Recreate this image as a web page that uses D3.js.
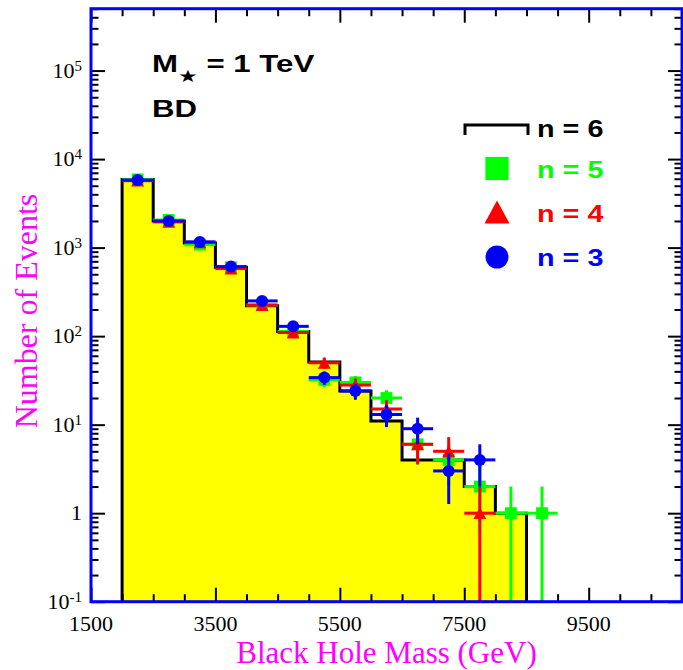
<!DOCTYPE html>
<html>
<head>
<meta charset="utf-8">
<script src="https://cdn.jsdelivr.net/npm/d3@7"></script>
<style>
  html, body { margin: 0; padding: 0; background: #fff; }
  svg { display: block; }
</style>
</head>
<body>
<svg id="chart" width="683" height="670"></svg>
<script>
// Histogram for n = 6: bin edges (GeV) and counts per 500 GeV bin
const binEdges = [2000, 2500, 3000, 3500, 4000, 4500, 5000, 5500, 6000, 6500, 7000, 7500, 8000, 8500];
const n6Counts = [5900, 2000, 1130, 600, 220, 113, 51, 24, 11, 4, 4, 2, 1];

// Points for n = 5, 4, 3 at the bin centres (null = empty bin)
const pointMass = [2250, 2750, 3250, 3750, 4250, 4750, 5250, 5750, 6250, 6750, 7250, 7750, 8250, 8750];
const n5Counts = [5900, 2050, 1080, 600, 225, 113, 32, 30, 20, 6, 4, 2, 1, 1];
const n4Counts = [5700, 1950, 1150, 580, 224, 110, 50, 28, 15, 6, 5, 1, null, null];
const n3Counts = [5800, 2000, 1160, 610, 250, 129, 34, 24, 13, 9, 3, 4, null, null];

// Axis labels
const xTickLabels = [1500, 3500, 5500, 7500, 9500];
const yTickExponents = [-1, 0, 1, 2, 3, 4, 5];

const halfBin = 250;

const svg = d3.select("#chart");
const plotLeft = 91, plotRight = 682, plotTop = 8.7, plotBottom = 601.7;

const x = d3.scaleLinear().domain([1500, 11000]).range([plotLeft, plotRight]);
const y = d3.scaleLog().domain([0.1, 5e5]).range([plotBottom, plotTop]).clamp(true);

const serif = "'Liberation Serif', 'Times New Roman', serif";
const sans = "'Liberation Sans', Arial, Helvetica, sans-serif";

// ---- n = 6 histogram (filled step outline) ----
const steps = [[binEdges[0], 0.1]];
n6Counts.forEach((c, i) => {
  steps.push([binEdges[i], c]);
  steps.push([binEdges[i + 1], c]);
});
steps.push([binEdges[binEdges.length - 1], 0.1]);

const stepLine = d3.line().x(d => x(d[0])).y(d => y(d[1]));
svg.append("path")
  .attr("d", stepLine(steps) + "Z")
  .attr("fill", "#ffff00")
  .attr("stroke", "none");
svg.append("path")
  .attr("d", stepLine(steps))
  .attr("fill", "none")
  .attr("stroke", "#000")
  .attr("stroke-width", 3)
  .attr("stroke-linejoin", "miter");

// ---- points with Poisson error bars ----
const triangle = {
  draw(ctx, size) {
    const w = Math.sqrt(size), h = w * 0.92;
    ctx.moveTo(0, -h / 2);
    ctx.lineTo(w / 2, h / 2);
    ctx.lineTo(-w / 2, h / 2);
    ctx.closePath();
  }
};

const series = [
  { counts: n5Counts, color: "#00ff00", symbol: d3.symbolSquare, size: 140 },
  { counts: n4Counts, color: "#ff0000", symbol: triangle, size: 165 },
  { counts: n3Counts, color: "#0000ff", symbol: d3.symbolCircle, size: Math.PI * 36 }
];

series.forEach(s => {
  const pts = pointMass.map((m, i) => ({ m, v: s.counts[i] })).filter(d => d.v != null);
  const g = svg.append("g");
  pts.forEach(d => {
    const err = Math.sqrt(d.v);
    const lo = d.v - err > 0 ? d.v - err : 0.1;
    g.append("line")
      .attr("x1", x(d.m - halfBin)).attr("x2", x(d.m + halfBin))
      .attr("y1", y(d.v)).attr("y2", y(d.v))
      .attr("stroke", s.color).attr("stroke-width", 3);
    g.append("line")
      .attr("x1", x(d.m)).attr("x2", x(d.m))
      .attr("y1", y(lo)).attr("y2", y(d.v + err))
      .attr("stroke", s.color).attr("stroke-width", 3);
  });
  g.selectAll("path.mk").data(pts).join("path")
    .attr("class", "mk")
    .attr("transform", d => `translate(${x(d.m)},${y(d.v)})`)
    .attr("d", d3.symbol(s.symbol, s.size)())
    .attr("fill", s.color);
});

// ---- ticks on all four sides, pointing inward ----
const xMinor = d3.range(1500, 11001, 500);
const xMajor = xTickLabels;
const yAll = y.ticks();
const isMajorY = v => Math.abs(Math.log10(v) - Math.round(Math.log10(v))) < 1e-9;
const yMajor = yAll.filter(isMajorY);
const yMinor = yAll.filter(v => !isMajorY(v));

function tickAxis(axisFn, scale, values, size, transform) {
  const g = svg.append("g")
    .attr("transform", transform)
    .call(axisFn(scale).tickValues(values).tickSize(size).tickFormat(""));
  g.select(".domain").remove();
  g.selectAll(".tick line").attr("stroke", "#000").attr("stroke-width", 2);
}
const majorLen = 14, minorLen = 7.5;
const xMinorOnly = xMinor.filter(v => !xMajor.includes(v));
tickAxis(d3.axisBottom, x, xMinorOnly, -minorLen, `translate(0,${plotBottom})`);
tickAxis(d3.axisBottom, x, xMajor, -majorLen, `translate(0,${plotBottom})`);
tickAxis(d3.axisTop, x, xMinorOnly, -minorLen, `translate(0,${plotTop})`);
tickAxis(d3.axisTop, x, xMajor, -majorLen, `translate(0,${plotTop})`);
tickAxis(d3.axisLeft, y, yMinor, -minorLen, `translate(${plotLeft},0)`);
tickAxis(d3.axisLeft, y, yMajor, -majorLen, `translate(${plotLeft},0)`);
tickAxis(d3.axisRight, y, yMinor, -minorLen, `translate(${plotRight},0)`);
tickAxis(d3.axisRight, y, yMajor, -majorLen, `translate(${plotRight},0)`);

// ---- frame ----
svg.append("rect")
  .attr("x", plotLeft).attr("y", plotTop)
  .attr("width", plotRight - plotLeft).attr("height", plotBottom - plotTop)
  .attr("fill", "none").attr("stroke", "#0000ff").attr("stroke-width", 3);

// ---- tick labels ----
svg.append("g").selectAll("text").data(xTickLabels).join("text")
  .attr("x", d => x(d)).attr("y", 630.5)
  .attr("text-anchor", "middle")
  .attr("font-family", serif).attr("font-size", 22)
  .text(d => d);

const yLab = svg.append("g").selectAll("text").data(yTickExponents).join("text")
  .attr("x", 82).attr("y", d => y(Math.pow(10, d)) + 7)
  .attr("text-anchor", "end")
  .attr("font-family", serif).attr("font-size", 22);
yLab.each(function (e) {
  const t = d3.select(this);
  if (e === 0) { t.text("1"); return; }
  t.append("tspan").text("10");
  t.append("tspan").attr("dy", -7).attr("font-size", 15).text(String(e));
});

// ---- axis titles ----
svg.append("text")
  .attr("x", (plotLeft + plotRight) / 2).attr("y", 663)
  .attr("text-anchor", "middle")
  .attr("font-family", serif).attr("font-size", 31)
  .attr("fill", "#ff00ff")
  .text("Black Hole Mass (GeV)");
svg.append("text")
  .attr("transform", "translate(36.5,311) rotate(-90)")
  .attr("text-anchor", "middle")
  .attr("font-family", serif).attr("font-size", 32)
  .attr("fill", "#ff00ff")
  .text("Number of Events");

// ---- annotations ----
const mText = svg.append("text")
  .attr("transform", "translate(152,72.3) scale(1.3,1)")
  .attr("font-family", sans).attr("font-weight", "bold").attr("font-size", 24);
mText.append("tspan").text("M");
mText.append("tspan").attr("dy", 10).attr("font-size", 17)
  .attr("font-family", "'DejaVu Sans', sans-serif").text("★");
mText.append("tspan").attr("dy", -10).text(" = 1 TeV");

svg.append("text")
  .attr("transform", "translate(152,117.3) scale(1.3,1)")
  .attr("font-family", sans).attr("font-weight", "bold").attr("font-size", 24)
  .text("BD");

// ---- legend ----
const legendX = 497, legendTextX = 537;
svg.append("path")
  .attr("d", "M465,135V125H528V135")
  .attr("fill", "none").attr("stroke", "#000").attr("stroke-width", 3);

const legendRows = [
  { label: "n = 6", color: "#000", y: 136.5 },
  { label: "n = 5", color: "#00ff00", y: 177.5, symbol: d3.symbolSquare, size: 540, my: 168.5 },
  { label: "n = 4", color: "#ff0000", y: 222, symbol: triangle, size: 625, my: 212 },
  { label: "n = 3", color: "#0000ff", y: 266, symbol: d3.symbolCircle, size: Math.PI * 11.5 * 11.5, my: 257 }
];
legendRows.forEach(r => {
  if (r.symbol) {
    svg.append("path")
      .attr("transform", `translate(${legendX},${r.my})`)
      .attr("d", d3.symbol(r.symbol, r.size)())
      .attr("fill", r.color);
  }
  svg.append("text")
    .attr("transform", `translate(${legendTextX},${r.y}) scale(1.2,1)`)
    .attr("font-family", sans).attr("font-weight", "bold").attr("font-size", 24)
    .attr("fill", r.color)
    .text(r.label);
});
</script>
</body>
</html>
